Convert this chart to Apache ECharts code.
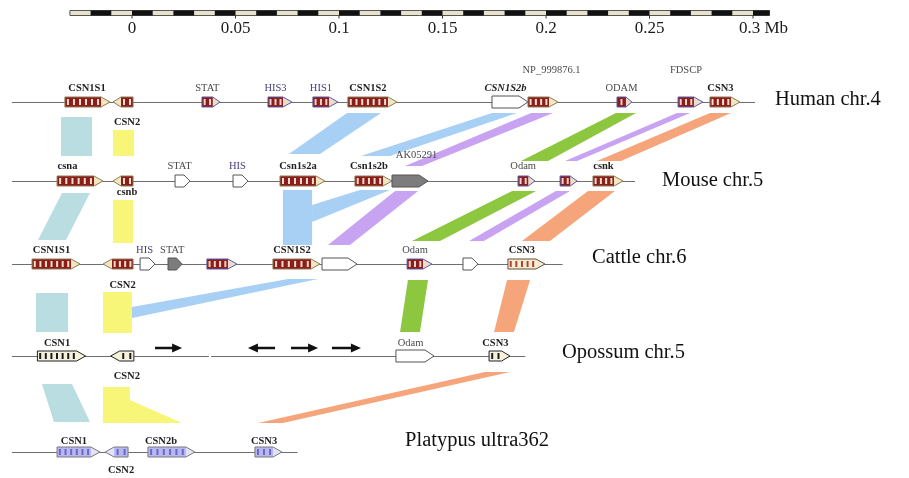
<!DOCTYPE html>
<html><head><meta charset="utf-8">
<script src="https://cdn.jsdelivr.net/npm/echarts@6/dist/echarts.min.js"></script>
<style>html,body{margin:0;padding:0;background:#fff}#c{width:909px;height:478px}</style>
</head><body><div id="c"></div>
<script>
// ================= DATA (positions in kb; 0.3 Mb = 300 kb) =================
const scaleTicks = [0, 50, 100, 150, 200, 250, 300];
const scaleTickLabels = ['0', '0.05', '0.1', '0.15', '0.2', '0.25', '0.3 Mb'];
const scaleBarRange = [-30, 308];
const scaleSegmentKb = 10;

const rowNames = ['Human chr.4', 'Mouse chr.5', 'Cattle chr.6', 'Opossum chr.5', 'Platypus ultra362'];
// chromosome backbone segments: [row, startKb, endKb]
const backbones = [[0,-58,301],[1,-58,243],[2,-58,208],[3,-58,37.2],[3,38.2,190],[4,-58,80]];

// genes: [startKb, endKb, strand, class, name]
const humanGenes = [
  [-32.4,-10.6, 1,'casein','CSN1S1'],
  [-9.2,   0.5,-1,'casein','CSN2'],
  [33.8,  42.5, 1,'other','STAT'],
  [65.7,  77.3, 1,'other','HIS3'],
  [87.4,  99.5, 1,'other','HIS1'],
  [104.3,128.0, 1,'casein','CSN1S2'],
  [173.9,191.3, 1,'plain','CSN1S2b'],
  [191.3,205.8, 1,'casein','NP_999876.1'],
  [234.3,241.5, 1,'other','ODAM'],
  [263.8,275.8, 1,'other','FDSCP'],
  [279.2,293.7, 1,'casein','CSN3']
];
const mouseGenes = [
  [-36.2,-14.0, 1,'casein','csna'],
  [-9.2,   0.5,-1,'casein','csnb'],
  [20.8,  28.0, 1,'plain','STAT'],
  [48.8,  56.0, 1,'plain','HIS'],
  [71.5,  93.2, 1,'casein','Csn1s2a'],
  [107.7,125.6, 1,'casein','Csn1s2b'],
  [125.6,143.0, 1,'gray','AK05291'],
  [186.5,194.7, 1,'other','Odam'],
  [206.8,215.0, 1,'other',''],
  [222.7,237.2, 1,'casein','csnk']
];
const cattleGenes = [
  [-48.3,-25.1, 1,'casein','CSN1S1'],
  [-14.0,  0.5,-1,'casein','CSN2'],
  [3.9,   11.1, 1,'plain','HIS'],
  [17.4,  24.2, 1,'gray','STAT'],
  [36.2,  50.7, 1,'other',''],
  [68.1,  90.8, 1,'casein','CSN1S2'],
  [91.8, 108.7, 1,'plain',''],
  [132.9,144.9, 1,'other','Odam'],
  [159.9,167.1, 1,'plain',''],
  [181.6,199.5, 1,'pale','CSN3']
];
const opossumGenes = [
  [-45.7,-22.4, 1,'pale','CSN1'],
  [-10.3,  0.9,-1,'pale','CSN2'],
  [127.5,145.9, 1,'plain','Odam'],
  [172.5,182.6, 1,'pale','CSN3']
];
const platypusGenes = [
  [-36.2,-15.5, 1,'casein','CSN1'],
  [-13.0, -1.9,-1,'casein','CSN2'],
  [7.7,   30.4, 1,'casein','CSN2b'],
  [59.4,  72.5, 1,'casein','CSN3']
];
// opossum unannotated orientation arrows: [startKb, endKb, strand]
const opossumArrows = [[11.1,24.2,1],[56.0,69.1,-1],[76.8,89.9,1],[96.6,110.6,1]];

// synteny bands: x of corners [topLeft, topRight, bottomRight, bottomLeft] in kb, gene family
const bandsHumanMouse = [
  [-34.3,-19.3,-19.3,-34.3,'CSN1S1'],
  [-9.2,   1.0,  1.0, -9.2,'CSN2'],
  [103.9,120.3, 90.8, 75.8,'CSN1S2'],
  [173.9,186.0,124.6,110.6,'CSN1S2'],
  [192.8,203.4,140.1,131.9,'NP'],
  [233.8,243.5,201.0,187.9,'ODAM'],
  [263.3,269.6,215.0,209.2,'FDSCP'],
  [279.2,289.4,236.2,224.6,'CSN3']
];
const bandsMouseCattle = [
  [-33.8,-20.3,-31.9,-45.4,'CSN1S1'],
  [-9.2,   0.5,  0.5, -9.2,'CSN2'],
  [72.9,  87.0, 87.0, 72.9,'CSN1S2'],
  [110.1,124.6, 87.0, 87.0,'CSN1S2'],
  [127.1,138.2,105.3, 94.7,'NP'],
  [183.6,195.2,148.8,135.3,'ODAM'],
  [204.8,211.6,170.0,162.8,'FDSCP'],
  [220.3,233.3,201.9,188.4,'CSN3']
];
const bandsCattleOpossum = [
  [-46.4,-30.9,-30.9,-46.4,'CSN1S1'],
  [-14.0,  0.0,  0.0,-14.0,'CSN2'],
  [75.4,  89.9,  0.0,  0.0,'CSN1S2'],
  [133.3,143.0,139.1,129.5,'ODAM'],
  [181.2,192.3,184.5,174.9,'CSN3']
];
const bandsOpossumPlatypus = [
  [-43.5,-29.0,-20.3,-37.7,'CSN1S1'],
  [-14.0, -1.0, -1.0,-14.0,'CSN2'],
  [-1.0,  -1.0, 24.2, -1.0,'CSN2'],
  [170.5,182.6, 72.9, 60.9,'CSN3']
];

// ================= LAYOUT & STYLE =================
const L = {
  pxPerKb: 2.07, originPx: 132, width: 909, height: 478,
  rowY: [102, 181, 264, 356, 452],
  scaleY: 13, scaleH: 5, scaleLabelY: 29,
  labelAbove: [-14, -15, -14, -13, -11],
  labelPlace: {'0:CSN2':20,'1:csnb':11,'2:CSN2':21,'3:CSN2':20,'4:CSN2':18,
               '0:NP_999876.1':-32,'0:FDSCP':-32,'1:AK05291':-26},
  labelDx: {'1:csna':-8,'0:NP_999876.1':13,'1:AK05291':11,'4:CSN2b':-6,'0:CSN1S1':4},
  titleX: [310.6, 256.0, 222.2, 207.7, 131.9],
  titleY: [100, 181, 258, 353, 441],
  arrowDy: -8,
  bandY: [
    [[117,117,156,156],[130,130,156,156],[113,113,154,154],[113,113,156,156],[113,113,166,166],[113,113,161,161],[113,113,161,161],[113,113,161,161]],
    [[193,193,240,240],[200,200,243,243],[190,190,245,245],[190,190,222,205],[191,191,245,245],[191,191,241,241],[191,191,241,241],[191,191,241,241]],
    [[293,293,332,332],[292,292,333,333],[279,279,318,307],[280,280,332,332],[280,280,332,332]],
    [[384,384,422,422],[387,387,423,423],[400,400,423,423],[372,372,423,423]]
  ]
};
const FONT = '"Liberation Serif","Times New Roman","DejaVu Serif",serif';
const familyColor = {CSN1S1:'#b9dde0', CSN2:'#f8f678', CSN1S2:'#a8d0f4', NP:'#c7a3f1', FDSCP:'#c7a3f1', ODAM:'#8dc63f', CSN3:'#f6a57b'};
const STYLE = {
  casein:    {body:'#8c1d1d', stripe:'#f4ddc9', tip:'#f3e7c2', border:'#8d7c55', h:5},
  other:     {body:'#8c1d1d', stripe:'#eed3c6', tip:'#ecdccc', border:'#5a5aa8', h:5},
  plain:     {body:'#ffffff', stripe:null,      tip:'#ffffff', border:'#555555', h:6},
  gray:      {body:'#7c7c7c', stripe:null,      tip:'#7c7c7c', border:'#555555', h:6},
  paleRed:   {body:'#f5ecd3', stripe:'#b2402e', tip:'#f5ecd3', border:'#5e5236', h:5},
  paleBlack: {body:'#f6f1dc', stripe:'#1c1c1c', tip:'#f6f1dc', border:'#222222', h:5},
  platypus:  {body:'#b8b8ee', stripe:'#6767cc', tip:'#e3e3f6', border:'#7a7a7a', h:5}
};
function resolveStyle(cls, row){
  if (cls === 'casein' && row === 4) return STYLE.platypus;
  if (cls === 'pale') return row === 3 ? STYLE.paleBlack : STYLE.paleRed;
  return STYLE[cls];
}

// ================= BUILD =================
const geneSets = [humanGenes, mouseGenes, cattleGenes, opossumGenes, platypusGenes];
const allGenes = [];
geneSets.forEach((set, row) => set.forEach(g => allGenes.push({row, start:g[0], end:g[1], strand:g[2], cls:g[3], name:g[4]})));
const bandSets = [bandsHumanMouse, bandsMouseCattle, bandsCattleOpossum, bandsOpossumPlatypus];
const allBands = [];
bandSets.forEach((set, gi) => set.forEach((b, bi) => allBands.push({x:b.slice(0,4), fam:b[4], y:L.bandY[gi][bi]})));

const xMin = -L.originPx / L.pxPerKb, xMax = (L.width - L.originPx) / L.pxPerKb;

function renderBand(params, api){
  const b = allBands[params.dataIndex];
  const pts = b.x.map((x, i) => api.coord([x, b.y[i]]));
  return {type:'polygon', shape:{points:pts}, style:{fill:familyColor[b.fam], stroke:null}};
}
function renderBackbone(params, api){
  const s = backbones[params.dataIndex];
  const a = api.coord([s[1], L.rowY[s[0]]]), b = api.coord([s[2], L.rowY[s[0]]]);
  return {type:'line', shape:{x1:a[0], y1:a[1]+0.5, x2:b[0], y2:b[1]+0.5}, style:{stroke:'#6e6e6e', lineWidth:1.2}};
}
function geneGeom(api, g, st){
  const yv = L.rowY[g.row];
  const p0 = api.coord([g.start, yv]), p1 = api.coord([g.end, yv]);
  const x0 = p0[0], x1 = p1[0], cy = p0[1];
  const len = x1 - x0, h = st.h, tip = Math.min(9, len * 0.4);
  if (g.strand > 0) return {pts:[[x0,cy-h],[x1-tip,cy-h],[x1,cy],[x1-tip,cy+h],[x0,cy+h]], bx0:x0, bx1:x1-tip, cy, h, x0, x1};
  return {pts:[[x1,cy-h],[x0+tip,cy-h],[x0,cy],[x0+tip,cy+h],[x1,cy+h]], bx0:x0+tip, bx1:x1, cy, h, x0, x1};
}
function renderGene(params, api){
  const g = allGenes[params.dataIndex];
  const st = resolveStyle(g.cls, g.row);
  const G = geneGeom(api, g, st);
  const ch = [{type:'polygon', shape:{points:G.pts}, style:{fill:st.tip, stroke:null}}];
  if (st.body !== st.tip) ch.push({type:'rect', shape:{x:G.bx0, y:G.cy-G.h, width:G.bx1-G.bx0, height:2*G.h}, style:{fill:st.body}});
  if (st.stripe){
    const bl = G.bx1 - G.bx0; const n = Math.max(1, Math.round(bl/6));
    for (let i = 0; i < n; i++){
      const sx = G.bx0 + (i+0.5)*bl/n - 1;
      ch.push({type:'rect', shape:{x:sx, y:G.cy-G.h+2, width:2, height:2*G.h-4}, style:{fill:st.stripe}});
    }
  }
  ch.push({type:'polygon', shape:{points:G.pts}, style:{fill:'none', stroke:st.border, lineWidth:1}});
  return {type:'group', children:ch};
}
function renderGeneLabel(params, api){
  const g = allGenes[params.dataIndex];
  if (!g.name) return null;
  const st = resolveStyle(g.cls, g.row);
  const G = geneGeom(api, g, st);
  const key = g.row + ':' + g.name;
  const dy = (key in L.labelPlace) ? L.labelPlace[key] : L.labelAbove[g.row];
  const dx = L.labelDx[key] || 0;
  const bold = /^(CSN|csn|Csn)/.test(g.name);
  const italic = g.name === 'CSN1S2b';
  const isHis = /^HIS/.test(g.name);
  return {type:'text', x:(G.bx0+G.bx1)/2 + dx, y:G.cy + dy,
    style:{text:g.name, fontFamily:FONT, fontSize:10.5, fontWeight:bold?'bold':'normal', fontStyle:italic?'italic':'normal',
      fill: bold ? '#1e1e1e' : (isHis ? '#4b3d78' : '#4a4a4a'), align:'center', verticalAlign:'middle'}};
}
function renderArrow(params, api){
  const a = opossumArrows[params.dataIndex];
  const y = L.rowY[3] + L.arrowDy;
  const p0 = api.coord([a[0], y]), p1 = api.coord([a[1], y]);
  const head = 10, hw = 4.5, sw = 1.2;
  let pts;
  if (a[2] > 0){
    const x0=p0[0], x1=p1[0], c=p0[1];
    pts = [[x0,c-sw],[x1-head,c-sw],[x1-head,c-hw],[x1,c],[x1-head,c+hw],[x1-head,c+sw],[x0,c+sw]];
  } else {
    const x0=p0[0], x1=p1[0], c=p0[1];
    pts = [[x1,c-sw],[x0+head,c-sw],[x0+head,c-hw],[x0,c],[x0+head,c+hw],[x0+head,c+sw],[x1,c+sw]];
  }
  return {type:'polygon', shape:{points:pts}, style:{fill:'#111'}};
}
function renderTitle(params, api){
  const i = params.dataIndex;
  const p = api.coord([L.titleX[i], L.titleY[i]]);
  return {type:'text', x:p[0], y:p[1], style:{text:rowNames[i], fontFamily:FONT, fontSize:20.5, fill:'#111', align:'left', verticalAlign:'middle'}};
}
function renderScale(params, api){
  const ch = [];
  const a = api.coord([scaleBarRange[0], L.scaleY]), b = api.coord([scaleBarRange[1], L.scaleY]);
  const top = a[1] - L.scaleH/2;
  ch.push({type:'rect', shape:{x:a[0], y:top, width:b[0]-a[0], height:L.scaleH}, style:{fill:'#e6e2cc', stroke:'#555', lineWidth:1}});
  for (let k = scaleBarRange[0] + scaleSegmentKb; k < scaleBarRange[1]; k += 2*scaleSegmentKb){
    const s = api.coord([k, L.scaleY]), e = api.coord([Math.min(k+scaleSegmentKb, scaleBarRange[1]), L.scaleY]);
    ch.push({type:'rect', shape:{x:s[0], y:top, width:e[0]-s[0], height:L.scaleH}, style:{fill:'#111'}});
  }
  scaleTicks.forEach((t, i) => {
    const p = api.coord([t, L.scaleY]);
    ch.push({type:'line', shape:{x1:p[0], y1:top+L.scaleH, x2:p[0], y2:top+L.scaleH+3}, style:{stroke:'#333', lineWidth:1}});
    const lab = scaleTickLabels[i];
    const isLast = i === scaleTicks.length - 1;
    const q = api.coord([t, L.scaleLabelY]);
    ch.push({type:'text', x: isLast ? q[0]-14 : q[0], y:q[1], style:{text:lab, fontFamily:FONT, fontSize:17, fill:'#1a1a1a', align:isLast?'left':'center', verticalAlign:'middle'}});
  });
  return {type:'group', children:ch};
}

const chart = echarts.init(document.getElementById('c'), null, {renderer:'canvas'});
chart.setOption({
  animation:false,
  backgroundColor:'#ffffff',
  grid:{left:0, right:0, top:0, bottom:0},
  xAxis:{type:'value', min:xMin, max:xMax, show:false},
  yAxis:{type:'value', min:0, max:L.height, inverse:true, show:false},
  series:[
    {type:'custom', silent:true, renderItem:renderBand, data:allBands.map(b => [b.x[0], b.y[0]]), z:1},
    {type:'custom', silent:true, renderItem:renderBackbone, data:backbones.map(s => [s[1], L.rowY[s[0]]]), z:2},
    {type:'custom', silent:true, renderItem:renderGene, data:allGenes.map(g => [g.start, L.rowY[g.row]]), z:3},
    {type:'custom', silent:true, renderItem:renderArrow, data:opossumArrows.map(a => [a[0], L.rowY[3]]), z:3},
    {type:'custom', silent:true, renderItem:renderGeneLabel, data:allGenes.map(g => [g.start, L.rowY[g.row]]), z:4},
    {type:'custom', silent:true, renderItem:renderTitle, data:rowNames.map((n,i) => [L.titleX[i], L.titleY[i]]), z:4},
    {type:'custom', silent:true, renderItem:renderScale, data:[[0, L.scaleY]], z:4}
  ]
});
</script></body></html>
